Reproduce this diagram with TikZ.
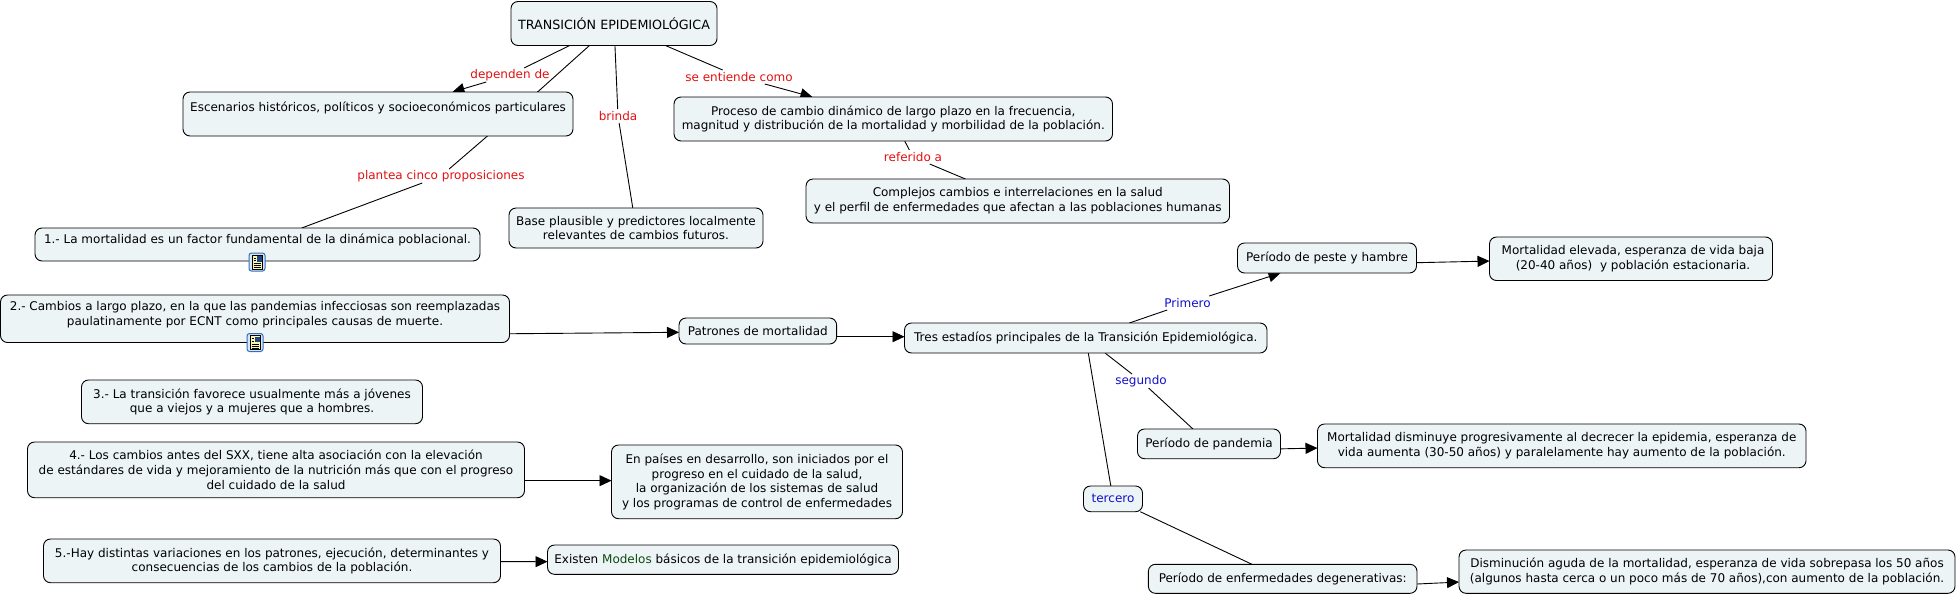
\documentclass[tikz,border=0pt]{standalone}
\usepackage{fontspec}
\setmainfont{DejaVu Sans}
\usetikzlibrary{arrows.meta,backgrounds,calc}
\definecolor{boxfill}{HTML}{EDF4F6}
\definecolor{linkred}{HTML}{E01010}
\definecolor{linkblue}{HTML}{1010CC}
\definecolor{modelgreen}{HTML}{0F4A0F}
\definecolor{iconblue}{HTML}{2F6FC0}
\definecolor{iconfill}{HTML}{D5E6F7}
\definecolor{iconpage}{HTML}{FBF3B0}
\tikzset{
  concept/.style={draw=black,line width=0.9pt,fill=boxfill,rounded corners=7pt,align=center,
    font=\fontsize{12}{14.7}\selectfont,inner sep=0pt,outer sep=0pt,text=black},
  linklabel/.style={inner sep=1pt,outer sep=0pt,minimum height=14pt,font=\fontsize{12}{14}\selectfont},
  redlabel/.style={linklabel,text=linkred},
  bluelabel/.style={linklabel,text=linkblue},
  plain/.style={draw=black,line width=0.9pt},
  arrowed/.style={plain,-{Triangle[length=12pt,width=11pt]}},
  noteicon/.pic={
    \draw[iconblue,line width=1pt,fill=iconfill,rounded corners=2.5pt] (-8,-9) rectangle (8,9);
    \draw[black,line width=0.7pt,fill=iconpage] (-5,-7) rectangle (5,7);
    \fill[black!35!iconblue] (0,-6) rectangle (4.5,-0.5);
    \draw[black,line width=0.8pt] (-3.5,1.5) -- (3.5,1.5) (-3.5,3.5) -- (3.5,3.5) (-3.5,5.5) -- (3.5,5.5) (-3.5,-1.5) -- (-1,-1.5) (-3.5,-4) -- (-1,-4);
  }
}
\begin{document}
\begin{tikzpicture}[x=1pt,y=-1pt]
\useasboundingbox (0,0) rectangle (1958,595);
% concepts
\node[concept,minimum width=206pt,minimum height=44pt,font=\fontsize{12.7}{14.7}\selectfont] (trans) at (614,23.5) {TRANSICIÓN EPIDEMIOLÓGICA};
\node[concept,minimum width=390pt,minimum height=44pt] (esc) at (378,114) {Escenarios históricos, políticos y socioeconómicos particulares\\\mbox{}};
\node[concept,minimum width=445pt,minimum height=33pt] (n1) at (257.5,244.5) {1.- La mortalidad es un factor fundamental de la dinámica poblacional.\\[-3.5pt]\mbox{}};
\node[concept,minimum width=254pt,minimum height=40pt] (base) at (636,228) {Base plausible y predictores localmente\\relevantes de cambios futuros.};
\node[concept,minimum width=438.5pt,minimum height=44pt] (proc) at (893.25,119) {Proceso de cambio dinámico de largo plazo en la frecuencia,\\magnitud y distribución de la mortalidad y morbilidad de la población.};
\node[concept,minimum width=423.5pt,minimum height=44pt] (comp) at (1017.75,201) {Complejos cambios e interrelaciones en la salud\\y el perfil de enfermedades que afectan a las poblaciones humanas};
\node[concept,minimum width=509pt,minimum height=47.5pt] (n2) at (255,318.75) {2.- Cambios a largo plazo, en la que las pandemias infecciosas son reemplazadas\\paulatinamente por ECNT como principales causas de muerte.\\[-3.5pt]\mbox{}};
\node[concept,minimum width=157.6pt,minimum height=26pt] (pat) at (757.8,331) {Patrones de mortalidad};
\node[concept,minimum width=362.5pt,minimum height=30pt] (tres) at (1085.75,338) {Tres estadíos principales de la Transición Epidemiológica.};
\node[concept,minimum width=179pt,minimum height=30pt] (peste) at (1327,258) {Período de peste y hambre};
\node[concept,minimum width=283pt,minimum height=43.5pt] (elev) at (1631,258.75) {\hspace*{4pt}Mortalidad elevada, esperanza de vida baja\\\hspace*{4pt}(20-40 años)\ \ y población estacionaria.};
\node[concept,minimum width=143pt,minimum height=29.7pt] (pand) at (1209,443.85) {Período de pandemia};
\node[concept,minimum width=488.5pt,minimum height=43.7pt] (dism) at (1561.75,445.85) {Mortalidad disminuye progresivamente al decrecer la epidemia, esperanza de\\vida aumenta (30-50 años) y paralelamente hay aumento de la población.};
\node[concept,minimum width=59pt,minimum height=25.7pt,text=linkblue] (terc) at (1113,498.85) {tercero};
\node[concept,minimum width=268.6pt,minimum height=29pt] (enf) at (1282.7,578.8) {Período de enfermedades degenerativas:};
\node[concept,minimum width=496pt,minimum height=43.3pt] (dis2) at (1707,571.65) {Disminución aguda de la mortalidad, esperanza de vida sobrepasa los 50 años\\(algunos hasta cerca o un poco más de 70 años),con aumento de la población.};
\node[concept,minimum width=341pt,minimum height=43.7pt] (n3) at (252,401.85) {3.- La transición favorece usualmente más a jóvenes\\que a viejos y a mujeres que a hombres.};
\node[concept,minimum width=497pt,minimum height=55.7pt] (n4) at (276,469.85) {4.- Los cambios antes del SXX, tiene alta asociación con la elevación\\de estándares de vida y mejoramiento de la nutrición más que con el progreso\\del cuidado de la salud};
\node[concept,minimum width=291pt,minimum height=73.7pt] (en) at (757,481.85) {En países en desarrollo, son iniciados por el\\progreso en el cuidado de la salud,\\la organización de los sistemas de salud\\y los programas de control de enfermedades};
\node[concept,minimum width=457pt,minimum height=43.7pt] (n5) at (272,560.85) {5.-Hay distintas variaciones en los patrones, ejecución, determinantes y\\consecuencias de los cambios de la población.};
\node[concept,minimum width=351pt,minimum height=29.3pt] (exi) at (723,559.65) {Existen {\color{modelgreen}Modelos} básicos de la transición epidemiológica};
% link labels
\node[redlabel] (ldep) at (510,75) {dependen de};
\node[redlabel] (lbri) at (618,116) {brinda};
\node[redlabel] (lse) at (739,77) {se entiende como};
\node[redlabel] (lpla) at (441,176) {plantea cinco proposiciones};
\node[redlabel] (lref) at (913,157) {referido a};
\node[bluelabel] (lpri) at (1187.5,303) {Primero};
\node[bluelabel] (lseg) at (1141,381) {segundo};
\coordinate (hid) at (513,114);
% note icons
\pic at (257,262) {noteicon};
\pic at (255,342.5) {noteicon};
% connectors
\begin{scope}[on background layer]
\draw[plain] (trans) -- (ldep);
\draw[arrowed] (ldep) -- (esc);
\draw[plain] (trans) -- (hid);
\draw[plain] (hid) -- (lpla);
\draw[plain] (lpla) -- (n1);
\draw[plain] (trans) -- (lbri);
\draw[plain] (lbri) -- (base);
\draw[plain] (trans) -- (lse);
\draw[arrowed] (lse) -- (proc);
\draw[plain] (proc) -- (lref);
\draw[plain] (lref) -- (comp);
\draw[arrowed] ([yshift=-15pt]n2.east) -- ([yshift=-1.3pt]pat.west);
\draw[arrowed] ([yshift=-5.7pt]pat.east) -- ([yshift=-5.7pt]tres.west |- pat.east);
\draw[plain] (tres) -- (lpri);
\draw[arrowed] (lpri) -- (peste);
\draw[arrowed] ([yshift=-4.7pt]peste.east) -- ([yshift=-2.3pt]elev.west);
\draw[plain] (tres) -- (lseg);
\draw[plain] (lseg) -- (pand);
\draw[arrowed] ([yshift=-5pt]pand.east) -- ([yshift=-2.2pt]dism.west);
\draw[plain] (tres) -- (terc);
\draw[plain] (terc) -- (enf);
\draw[arrowed] ([yshift=-5.2pt]enf.east) -- ([yshift=-10.4pt]dis2.west);
\draw[arrowed] ([yshift=-10.8pt]n4.east) -- ([yshift=1.2pt]en.west);
\draw[arrowed] ([yshift=-0.8pt]n5.east) -- ([yshift=-2pt]exi.west);
\end{scope}
\end{tikzpicture}
\end{document}
